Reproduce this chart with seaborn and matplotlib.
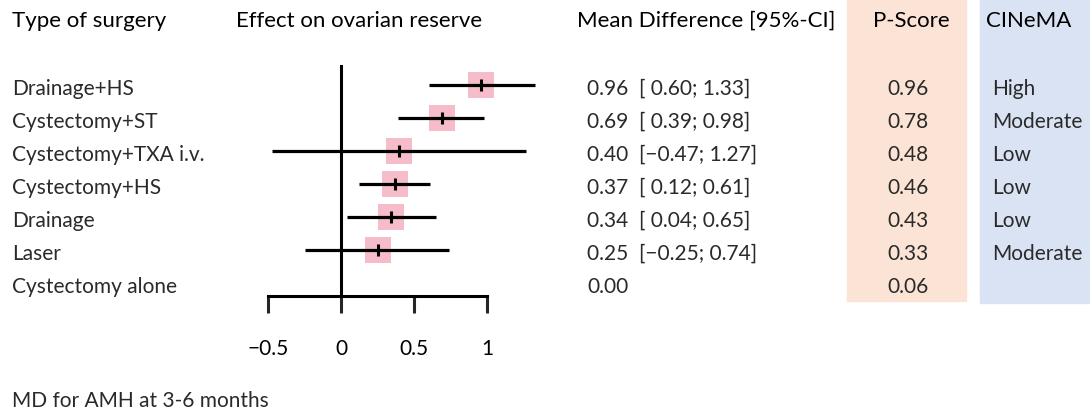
import matplotlib
matplotlib.use("Agg")
import matplotlib.pyplot as plt
import matplotlib.transforms as mtransforms
import matplotlib.patches as mpatches
import pandas as pd
import seaborn as sns

# data
surgery = ["Drainage+HS", "Cystectomy+ST", "Cystectomy+TXA i.v.",
           "Cystectomy+HS", "Drainage", "Laser", "Cystectomy alone"]
md = [0.96, 0.69, 0.40, 0.37, 0.34, 0.25, 0.00]
ci_low = [0.60, 0.39, -0.47, 0.12, 0.04, -0.25, None]
ci_high = [1.33, 0.98, 1.27, 0.61, 0.65, 0.74, None]
p_score = ["0.96", "0.78", "0.48", "0.46", "0.43", "0.33", "0.06"]
cinema = ["High", "Moderate", "Low", "Low", "Low", "Moderate", ""]
x_ticks = [-0.5, 0, 0.5, 1]
x_ticklabels = ["\u22120.5", "0", "0.5", "1"]

W, H = 1090, 414
FONT = "Lato"
TXT = "#2a2a2a"


def fmt(v):
    return f"{v:.2f}" if v >= 0 else f"\u2212{abs(v):.2f}"


def main():
    sns.set_theme(style="white")
    plt.rcParams["font.family"] = [FONT, "DejaVu Sans"]

    fig = plt.figure(figsize=(W / 100, H / 100), dpi=100)

    # coloured column backgrounds (pixel boxes -> figure fraction)
    fig.patches.append(mpatches.Rectangle(
        (847 / W, 1 - 302 / H), (966 - 847) / W, 302 / H,
        transform=fig.transFigure, color="#FBE4D6", zorder=-5))
    fig.patches.append(mpatches.Rectangle(
        (980 / W, 1 - 304 / H), (W - 980) / W, 304 / H,
        transform=fig.transFigure, color="#DAE3F3", zorder=-5))

    # forest axes: left px 250..545, top px 60..297
    left, right, top, bottom = 250, 545, 60, 297
    ax = fig.add_axes([left / W, 1 - bottom / H, (right - left) / W,
                       (bottom - top) / H])
    ax.patch.set_alpha(0)
    px_per_unit = (487 - 268) / 1.5
    zero_px = 341
    ax.set_xlim((left - zero_px) / px_per_unit, (right - zero_px) / px_per_unit)
    row_px0, row_step = 86, 33.0
    ax.set_ylim((bottom - row_px0) / row_step, (top - row_px0) / row_step)

    df = pd.DataFrame({"surgery": surgery, "md": md,
                       "lo": ci_low, "hi": ci_high})
    df["row"] = range(len(df))
    est = df.dropna()

    ax.hlines(est["row"], est["lo"], est["hi"], color="black", lw=2.3,
              zorder=2)
    sns.scatterplot(data=est, x="md", y="row", marker="s", s=370,
                    color="#F7BCCA", linewidth=0, ax=ax, zorder=1)
    sns.scatterplot(data=est, x="md", y="row", marker="|", s=70,
                    color="black", linewidth=2.2, ax=ax, zorder=3)

    for s in ["top", "right"]:
        ax.spines[s].set_visible(False)
    ax.spines["left"].set_position(("data", 0))
    ax.spines["left"].set_bounds(6.4, (67 - row_px0) / row_step)
    ax.spines["bottom"].set_bounds(-0.5, 1)
    for s in ["left", "bottom"]:
        ax.spines[s].set_color("black")
        ax.spines[s].set_linewidth(2.2)
    ax.set_yticks([])
    ax.set_xticks(x_ticks)
    ax.set_xticklabels(x_ticklabels, fontsize=15, color="black")
    ax.tick_params(axis="x", direction="out", length=12, width=2.2,
                   pad=18, bottom=True)
    ax.set_xlabel("")
    ax.set_ylabel("")

    # text columns: x in figure pixels, y in data rows
    tr = mtransforms.blended_transform_factory(
        mtransforms.Affine2D().scale(1 / W, 1) + fig.transFigure, ax.transData)

    def put(x, row, s, **kw):
        ax.text(x, row + 0.08, s, transform=tr, va="center", fontsize=15,
                color=TXT, clip_on=False, **kw)

    for i in range(len(surgery)):
        put(12, i, surgery[i])
        if ci_low[i] is None:
            put(587, i, fmt(md[i]))
        else:
            lo = f" {fmt(ci_low[i])}" if ci_low[i] >= 0 else fmt(ci_low[i])
            put(587, i, f"{fmt(md[i])}  [{lo}; {fmt(ci_high[i])}]")
        put(908, i, p_score[i], ha="center")
        put(992, i, cinema[i])

    # headers
    for x, s in [(12, "Type of surgery"), (236, "Effect on ovarian reserve"),
                 (577, "Mean Difference [95%-CI]"), (873, "P-Score"),
                 (986, "CINeMA")]:
        fig.text(x / W, 1 - 21 / H, s, fontsize=16, color="black",
                 va="center")
    fig.text(12 / W, 1 - 401 / H, "MD for AMH at 3-6 months", fontsize=15,
             color=TXT, va="center")

    fig.savefig("out.png", dpi=100)


if __name__ == "__main__":
    main()
